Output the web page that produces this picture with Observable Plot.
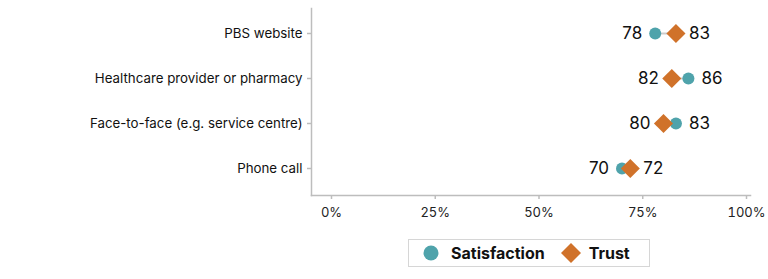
<!DOCTYPE html>
<html>
<head>
<meta charset="utf-8">
<script src="https://cdn.jsdelivr.net/npm/d3@7"></script>
<script src="https://cdn.jsdelivr.net/npm/@observablehq/plot@0.6"></script>
<style>
  html, body { margin: 0; padding: 0; background: #fff; }
  body { width: 768px; height: 279px; position: relative; overflow: hidden; font-family: Inter, "Noto Sans", sans-serif; }
  #chart svg { display: block; }
  #legend { position: absolute; left: 408px; top: 239px; width: 242px; height: 28px; border: 1px solid #d6d6d6; box-sizing: border-box; display: flex; align-items: center; padding-left: 14px; font-weight: 700; font-size: 16px; color: #111; }
  #legend .item { display: flex; align-items: center; margin-right: 16px; }
  #legend svg { margin-right: 8px; }
</style>
</head>
<body>
<div id="chart"></div>
<div id="legend"></div>
<script>
const categories = ["PBS website", "Healthcare provider or pharmacy", "Face-to-face (e.g. service centre)", "Phone call"];
const satisfaction = [78, 86, 83, 70];
const trust = [83, 82, 80, 72];
const xTicks = [0, 25, 50, 75, 100];
const seriesNames = ["Satisfaction", "Trust"];
const seriesColors = ["#4fa3ab", "#d0722a"];

const rows = categories.map((c, i) => ({
  category: c,
  sat: satisfaction[i],
  trust: trust[i],
  lo: Math.min(satisfaction[i], trust[i]),
  hi: Math.max(satisfaction[i], trust[i])
}));

const chart = Plot.plot({
  width: 768,
  height: 230,
  marginTop: 8,
  marginBottom: 35,
  marginLeft: 311,
  marginRight: 18,
  style: { fontFamily: "Inter, 'Noto Sans', sans-serif", fontSize: "13px", color: "#222" },
  x: { domain: [0, 100], insetLeft: 20, insetRight: 4, ticks: xTicks, tickFormat: d => d + "%", label: null },
  y: { domain: categories, type: "point", padding: 0.5, insetTop: 2.5, insetBottom: 4.5, label: null },
  marks: [
    Plot.frame({ anchor: "left", stroke: "#bdbdbd", strokeWidth: 1.5, strokeOpacity: 1 }),
    Plot.frame({ anchor: "bottom", stroke: "#bdbdbd", strokeWidth: 1.5, strokeOpacity: 1 }),
    Plot.axisX({ ticks: xTicks, tickFormat: d => d + "%", tickSize: 4, tickPadding: 8, stroke: "#bdbdbd", strokeWidth: 1.5, fill: "#222", fontSize: 13 }),
    Plot.axisY({ tickSize: 4, tickPadding: 5, stroke: "#bdbdbd", strokeWidth: 1.5, fill: "#111", fontSize: 13.3 }),
    Plot.link(rows, { x1: "sat", x2: "trust", y1: "category", y2: "category", stroke: "#cccccc", strokeWidth: 2 }),
    Plot.dot(rows, { x: "sat", y: "category", r: 6, fill: seriesColors[0], stroke: null }),
    Plot.dot(rows, { x: "trust", y: "category", symbol: "diamond2", r: 8.6, fill: seriesColors[1], stroke: null }),
    Plot.text(rows, { x: "lo", y: "category", text: d => String(d.lo), dx: -13, textAnchor: "end", fontSize: 17, fill: "#111" }),
    Plot.text(rows, { x: "hi", y: "category", text: d => String(d.hi), dx: 13, textAnchor: "start", fontSize: 17, fill: "#111" })
  ]
});
document.getElementById("chart").appendChild(chart);

// Legend
const legend = document.getElementById("legend");
seriesNames.forEach((name, i) => {
  const item = document.createElement("div");
  item.className = "item";
  const ns = "http://www.w3.org/2000/svg";
  const s = document.createElementNS(ns, "svg");
  s.setAttribute("width", 20);
  s.setAttribute("height", 20);
  if (i === 0) {
    const c = document.createElementNS(ns, "circle");
    c.setAttribute("cx", 8); c.setAttribute("cy", 10); c.setAttribute("r", 7.5);
    c.setAttribute("fill", seriesColors[0]);
    s.appendChild(c);
  } else {
    const p = document.createElementNS(ns, "path");
    p.setAttribute("d", "M10,0L20,10L10,20L0,10Z");
    p.setAttribute("fill", seriesColors[1]);
    s.appendChild(p);
  }
  item.appendChild(s);
  const t = document.createElement("span");
  t.textContent = name;
  item.appendChild(t);
  legend.appendChild(item);
});
</script>
</body>
</html>
